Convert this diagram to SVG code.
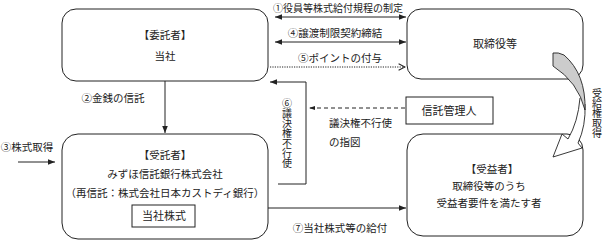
<svg xmlns="http://www.w3.org/2000/svg" width="603" height="242" viewBox="0 0 603 242">
<defs>
<style>
text{font-family:"Noto Sans CJK JP","Noto Sans",sans-serif;fill:#222;font-size:10.5px}
.c{text-anchor:middle}
.big{font-size:11px}
.box{fill:#fff;stroke:#222;stroke-width:1}
.ln{fill:none;stroke:#222;stroke-width:1}
.v{writing-mode:vertical-rl;text-orientation:upright;font-size:10px}
</style>
<marker id="ah" viewBox="0 0 10 10" refX="10" refY="5" markerWidth="7" markerHeight="7" markerUnits="userSpaceOnUse" orient="auto-start-reverse"><path d="M0,1 L10,5 L0,9 Z" fill="#222"/></marker>
<marker id="ahs" viewBox="0 0 10 10" refX="10" refY="5" markerWidth="6" markerHeight="6" markerUnits="userSpaceOnUse" orient="auto-start-reverse"><path d="M0,1.5 L10,5 L0,8.5 Z" fill="#222"/></marker>
<marker id="ch" viewBox="0 0 10 10" refX="9" refY="5" markerWidth="8" markerHeight="8" markerUnits="userSpaceOnUse" orient="auto"><path d="M1,1 L9,5 L1,9" fill="none" stroke="#222" stroke-width="1.3"/></marker>
</defs>

<g id="connectors">
<line class="ln" x1="275" y1="17" x2="406" y2="17" marker-start="url(#ah)" marker-end="url(#ah)"/>
<line class="ln" x1="275" y1="42" x2="406" y2="42" marker-start="url(#ah)" marker-end="url(#ah)"/>
<line class="ln" x1="270" y1="67" x2="405" y2="67" stroke-dasharray="1.2 1.2" marker-end="url(#ch)"/>
<polyline class="ln" points="278,184 306,184 306,82 270,82" marker-end="url(#ah)"/>
<line class="ln" x1="405" y1="108" x2="309" y2="108" stroke-dasharray="4 3" marker-end="url(#ahs)"/>
<line class="ln" x1="165" y1="81" x2="165" y2="133" marker-end="url(#ah)"/>
<line class="ln" x1="18" y1="162" x2="55" y2="162" marker-end="url(#ah)"/>
<line class="ln" x1="268" y1="208" x2="406" y2="208" marker-end="url(#ah)"/>
</g>

<g id="label-1"><text class="c" x="338" y="11.5" style="font-size:10px">①役員等株式給付規程の制定</text></g>
<g id="label-4"><text class="c" x="335" y="37">④譲渡制限契約締結</text></g>
<g id="label-5"><text class="c" x="340" y="62">⑤ポイントの付与</text></g>
<g id="label-2"><text class="c" x="113" y="102">②金銭の信託</text></g>
<g id="label-3"><text class="c" x="27" y="151">③株式取得</text></g>
<g id="label-6"><text class="v" x="287" y="98">⑥議決権不行使</text></g>
<g id="label-instr"><text x="329" y="127">議決権不行使</text><text x="329" y="146">の指図</text></g>
<g id="label-7"><text class="c" x="340" y="232">⑦当社株式等の給付</text></g>
<g id="label-recv"><text class="v" x="597" y="88" style="font-size:10px">受給権取得</text></g>

<g id="node-itakusha">
<rect class="box" x="62" y="9" width="206" height="72" rx="14"/>
<text class="c" x="165" y="39">【委託者】</text>
<text class="c" x="165" y="60">当社</text>
</g>
<g id="node-torishimariyaku">
<rect class="box" x="407" y="9" width="176" height="70" rx="14"/>
<text class="c big" x="495" y="48">取締役等</text>
</g>
<g id="node-shintakanrinin">
<rect class="box" x="406" y="97" width="87" height="27"/>
<text class="c big" x="449" y="115">信託管理人</text>
</g>
<g id="node-jutakusha">
<rect class="box" x="62" y="134" width="206" height="105" rx="16"/>
<text class="c" x="165" y="159">【受託者】</text>
<text class="c" x="165" y="178">みずほ信託銀行株式会社</text>
<text class="c" x="165" y="197">（再信託：株式会社日本カストディ銀行）</text>
<rect class="box" x="132" y="205" width="63" height="22"/>
<text class="c big" x="164" y="220">当社株式</text>
</g>
<g id="node-juekisha">
<rect class="box" x="407" y="134" width="176" height="102" rx="16"/>
<text class="c" x="492" y="173">【受益者】</text>
<text class="c" x="489" y="190">取締役等のうち</text>
<text class="c" x="489" y="207">受益者要件を満たす者</text>
</g>

<g id="curved-arrow">
<path d="M585,104 Q586,126 578,143 L582,148 L553,157 L562,134 L568,139 Q578,122 580,98" fill="#fff" stroke="#222" stroke-width="0.9"/>
<path d="M553,53 Q558,52 564,55 Q586,74 585,110 Q578,82 553,66 Z" fill="#ccc" stroke="#222" stroke-width="0.9"/>
</g>
</svg>
